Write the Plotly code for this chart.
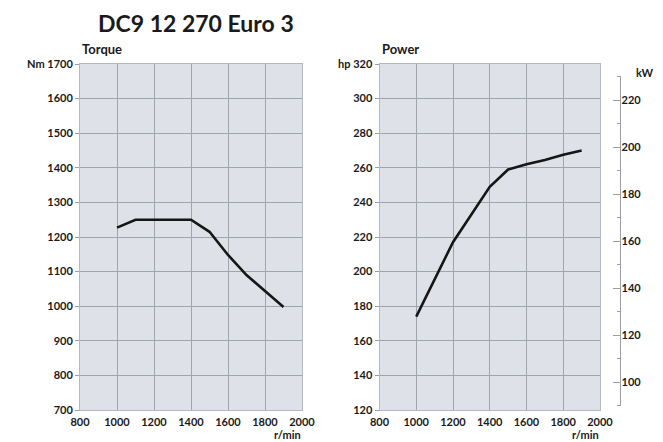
import plotly.graph_objects as go

# ---- data ----
torque_rpm = [1000, 1100, 1200, 1300, 1400, 1500, 1600, 1700, 1800, 1900]
torque_nm = [1227, 1250, 1250, 1250, 1250, 1215, 1148, 1090, 1043, 998]

power_rpm = [1000, 1100, 1200, 1300, 1400, 1500, 1600, 1700, 1800, 1900]
power_hp = [174, 196, 217, 233, 249, 259, 262, 264.5, 267.5, 270]

x_ticks = [800, 1000, 1200, 1400, 1600, 1800, 2000]
torque_ticks = [700, 800, 900, 1000, 1100, 1200, 1300, 1400, 1500, 1600, 1700]
torque_ticktext = ["700", "800", "900", "1000", "1100", "1200", "1300", "1400", "1500", "1600", "Nm 1700"]
hp_ticks = [120, 140, 160, 180, 200, 220, 240, 260, 280, 300, 320]
hp_ticktext = ["120", "140", "160", "180", "200", "220", "240", "260", "280", "300", "hp 320"]
kw_ticks = [100, 120, 140, 160, 180, 200, 220]
kw_line = [90, 230]
HP_TO_KW = 0.7355

FONT = "Lato"
TXT = "#1a1a1a"
GRID = "#a0a5ad"
BG = "#dee1e7"

fig = go.Figure()
fig.add_trace(go.Scatter(x=torque_rpm, y=torque_nm, mode="lines",
                         line=dict(color="#161616", width=2.6),
                         xaxis="x", yaxis="y", showlegend=False, hoverinfo="skip"))
fig.add_trace(go.Scatter(x=power_rpm, y=power_hp, mode="lines",
                         line=dict(color="#161616", width=2.6),
                         xaxis="x2", yaxis="y2", showlegend=False, hoverinfo="skip"))
fig.add_trace(go.Scatter(x=[None], y=[None], xaxis="x2", yaxis="y3", showlegend=False,
                         hoverinfo="skip"))

tickfont = dict(family=FONT, size=11, color=TXT, weight="bold")

xcommon = dict(range=[800, 2000], tickvals=x_ticks, showgrid=True, gridcolor=GRID, gridwidth=1,
               showline=True, linecolor="#b4b8bf", mirror=True, zeroline=False,
               tickfont=tickfont, ticks="", ticklabelstandoff=2, fixedrange=True,
               automargin=False)
ycommon = dict(showgrid=True, gridcolor=GRID, gridwidth=1, showline=True, linecolor="#b4b8bf",
               mirror=True, zeroline=False, tickfont=tickfont, ticks="outside", ticklen=4,
               tickcolor="#9a9ea5", fixedrange=True, automargin=False)

W, H = 663, 442
ytop = 1 - 64 / H
ybot = 1 - 410 / H

fig.update_layout(
    width=W, height=H,
    margin=dict(l=0, r=0, t=0, b=0, autoexpand=False),
    paper_bgcolor="white", plot_bgcolor=BG,
    xaxis=dict(domain=[80 / W, 302 / W], anchor="y", **xcommon),
    yaxis=dict(domain=[ybot, ytop], anchor="x", range=[700, 1700], tickvals=torque_ticks,
               ticktext=torque_ticktext, **ycommon),
    xaxis2=dict(domain=[379.5 / W, 600 / W], anchor="y2", **xcommon),
    yaxis2=dict(domain=[ybot, ytop], anchor="x2", range=[120, 320], tickvals=hp_ticks,
                ticktext=hp_ticktext, **ycommon),
    yaxis3=dict(overlaying="y2", anchor="free", position=620.5 / W, side="right",
                range=[120 * HP_TO_KW, 320 * HP_TO_KW], tickvals=kw_ticks,
                showgrid=False, zeroline=False, showline=False,
                ticks="inside", ticklen=8, tickcolor="#9a9ea5", tickwidth=1,
                minor=dict(ticks="inside", dtick=10, ticklen=4, tickcolor="#9a9ea5", showgrid=False),
                tickfont=tickfont, fixedrange=True, automargin=False),
    showlegend=False,
)

fig.add_shape(type="line", xref="paper", yref="y3", x0=620.5 / W, x1=620.5 / W,
              y0=kw_line[0], y1=kw_line[1], line=dict(color="#9a9ea5", width=1))

ann = []
ann.append(dict(text="DC9 12 270 Euro 3", x=96 / W, y=1 - 7 / H, xref="paper", yref="paper",
                xanchor="left", yanchor="top", showarrow=False,
                font=dict(family=FONT, size=23, color=TXT, weight="bold")))
ann.append(dict(text="Torque", x=80 / W, y=1 - 39 / H, xref="paper", yref="paper",
                xanchor="left", yanchor="top", showarrow=False,
                font=dict(family=FONT, size=13, color=TXT, weight="bold")))
ann.append(dict(text="Power", x=380 / W, y=1 - 39 / H, xref="paper", yref="paper",
                xanchor="left", yanchor="top", showarrow=False,
                font=dict(family=FONT, size=13, color=TXT, weight="bold")))
ann.append(dict(text="kW", x=656 / W, y=1 - 64 / H, xref="paper", yref="paper",
                xanchor="right", yanchor="top", showarrow=False,
                font=dict(family=FONT, size=11, color=TXT, weight="bold")))
for xr in [303, 601]:
    ann.append(dict(text="r/min", x=xr / W, y=1 - 426 / H, xref="paper", yref="paper",
                    xanchor="right", yanchor="top", showarrow=False,
                    font=dict(family=FONT, size=11, color=TXT, weight="bold")))
fig.update_layout(annotations=ann)

fig.write_html("out.html", config={"displayModeBar": False, "staticPlot": True},
               post_script="document.body.style.margin='0px';document.body.style.padding='0px';")
